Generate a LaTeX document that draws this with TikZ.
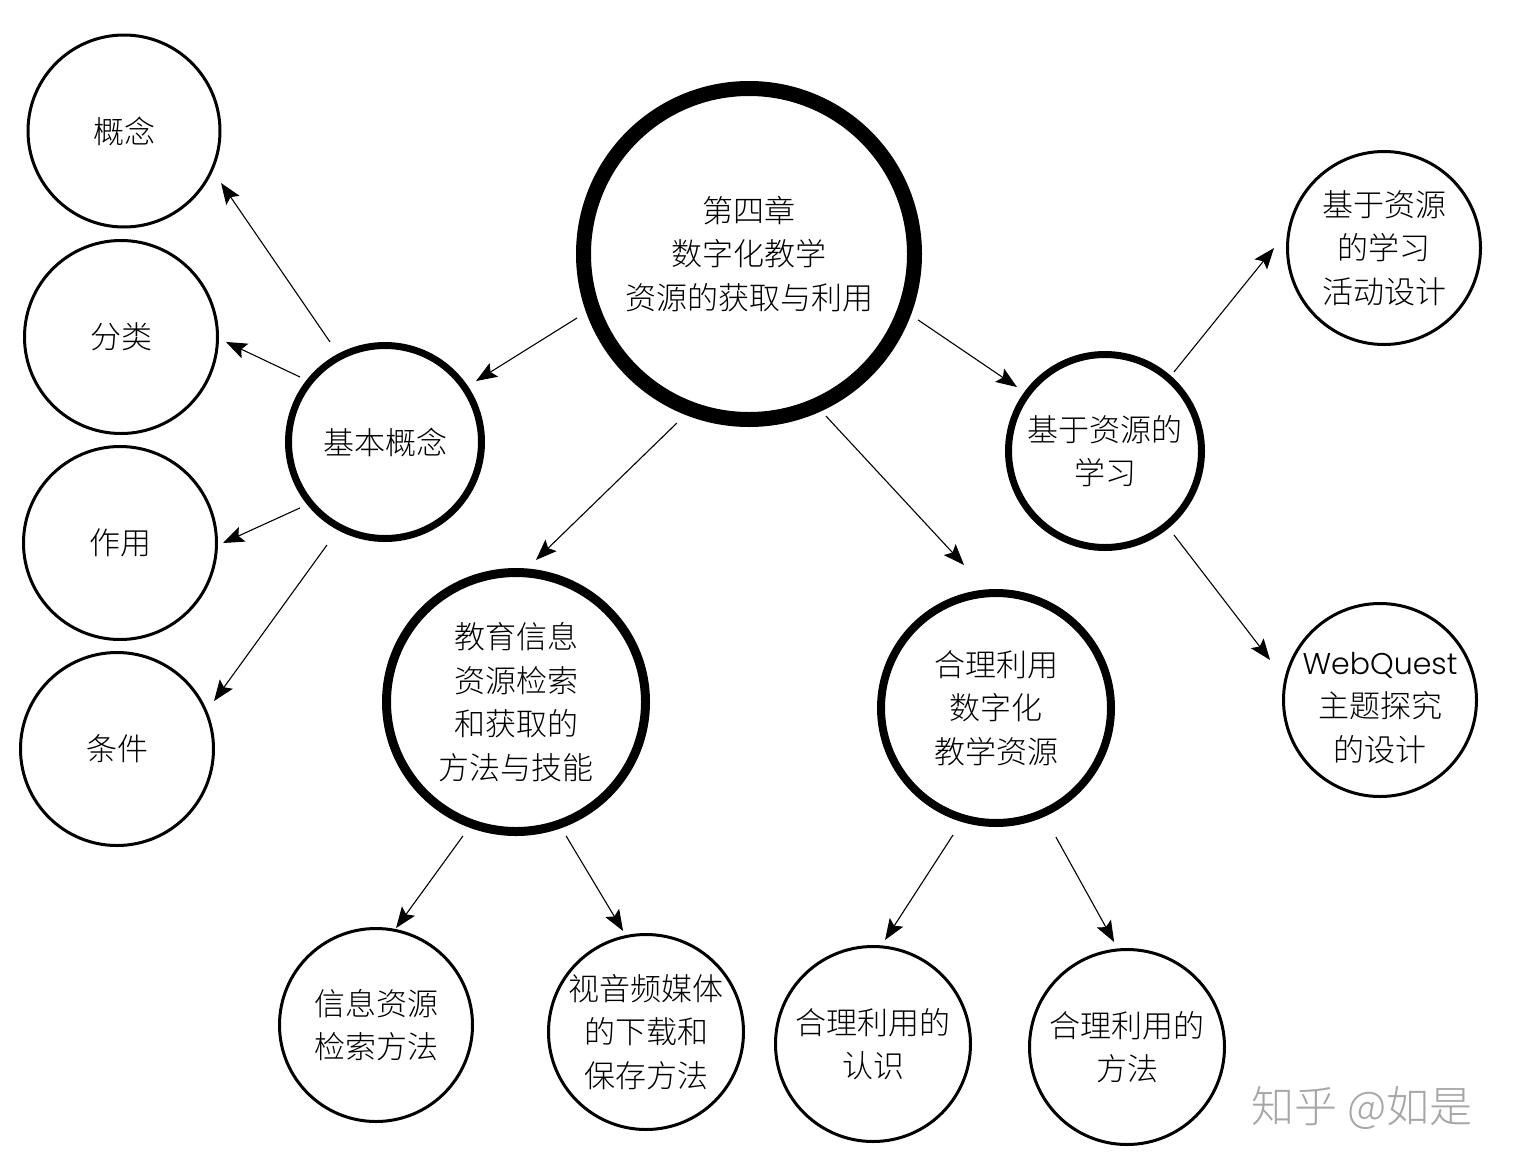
\documentclass[tikz,border=0pt]{standalone}
\usepackage{fontspec}
\newfontfamily\cjk{Noto Sans CJK SC}[UprightFont=* Light]
\newfontfamily\geo{Poppins}[UprightFont=* Light]
\usetikzlibrary{arrows.meta,calc}
\begin{document}
\begin{tikzpicture}[x=1pt,y=-1pt,
  bub/.style={circle,draw=black,inner sep=0pt,align=center,text=black,
    font=\cjk\fontsize{31}{43.5}\selectfont},
  thinbub/.style={bub,line width=3pt,minimum size=193pt},
  arr/.style={line width=1.1pt,draw=black,-{Stealth[length=21pt,width=16pt,inset=4pt]}}]
\useasboundingbox (0,0) rectangle (1520,1173);
\fill[white] (0,0) rectangle (1520,1173);

% main and second-level nodes
\node[bub,line width=15pt,minimum size=331pt] (c) at (749,254) {第四章\\数字化教学\\资源的获取与利用};
\node[bub,line width=7pt,minimum size=193pt] (jb) at (385,442) {基本概念};
\node[bub,line width=9pt,minimum size=259pt] (jy) at (516,702) {教育信息\\资源检索\\和获取的\\方法与技能};
\node[bub,line width=8pt,minimum size=230pt] (hl) at (996,708) {合理利用\\数字化\\教学资源};
\node[bub,line width=7pt,minimum size=193pt] (jx) at (1105,451) {基于资源的\\学习};

% leaf nodes
\node[thinbub,minimum size=192pt] (gn) at (124,131) {概念};
\node[thinbub] (fl) at (121,337) {分类};
\node[thinbub] (zy) at (120,543) {作用};
\node[thinbub] (tj) at (117,749) {条件};
\node[thinbub] (hd) at (1384,248) {基于资源\\的学习\\活动设计};
\node[thinbub,label={[align=center,yshift=-8pt,font=\cjk\fontsize{31}{43.5}\selectfont]center:{{\geo\fontsize{30}{43.5}\selectfont WebQuest}\\主题探究\\的设计}}] (wq) at (1380,700) {};
\node[thinbub] (xx) at (376,1025) {信息资源\\检索方法};
\node[thinbub,minimum size=195pt] (sy) at (646,1032) {视音频媒体\\的下载和\\保存方法};
\node[thinbub,minimum size=195pt] (rs) at (873,1044) {合理利用的\\认识};
\node[thinbub,minimum size=195pt] (ff) at (1127,1047) {合理利用的\\方法};

% connectors
\draw[arr] ($(jb)+(118.8:114.1pt)$) -- ($(gn)+(-28.2:110.1pt)$);
\draw[arr] ($(jb)+(142.6:107pt)$) -- ($(fl)+(-2.7:105.1pt)$);
\draw[arr] ($(jb)+(217.8:107.6pt)$) -- ($(zy)+(0:103pt)$);
\draw[arr] ($(jb)+(240.6:118.2pt)$) -- ($(tj)+(26.3:108.2pt)$);
\draw[arr] ($(c)+(200.4:183.5pt)$) -- ($(jb)+(33.8:109.6pt)$);
\draw[arr] ($(c)+(246.9:183.7pt)$) -- ($(jy)+(82:143.4pt)$);
\draw[arr] ($(c)+(-64.6:179.4pt)$) -- ($(hl)+(102.6:146.5pt)$);
\draw[arr] ($(c)+(-21.3:181.4pt)$) -- ($(jx)+(144:108.8pt)$);
\draw[arr] ($(jx)+(48.9:104.9pt)$) -- ($(hd)+(180:110pt)$);
\draw[arr] ($(jx)+(-50.6:108.7pt)$) -- ($(wq)+(160:117pt)$);
\draw[arr] ($(jy)+(248.4:144.1pt)$) -- ($(xx)+(78.3:99pt)$);
\draw[arr] ($(jy)+(-69.5:143pt)$) -- ($(sy)+(102.8:103.6pt)$);
\draw[arr] ($(hl)+(251.3:134pt)$) -- ($(rs)+(83.4:104.7pt)$);
\draw[arr] ($(hl)+(-65.1:142.3pt)$) -- ($(ff)+(97:105.8pt)$);

% watermark
\node[font=\cjk\fontsize{43}{43}\selectfont,text=black!35] (wm) at (1362,1108) {知乎 @如是};
\end{tikzpicture}
\end{document}
